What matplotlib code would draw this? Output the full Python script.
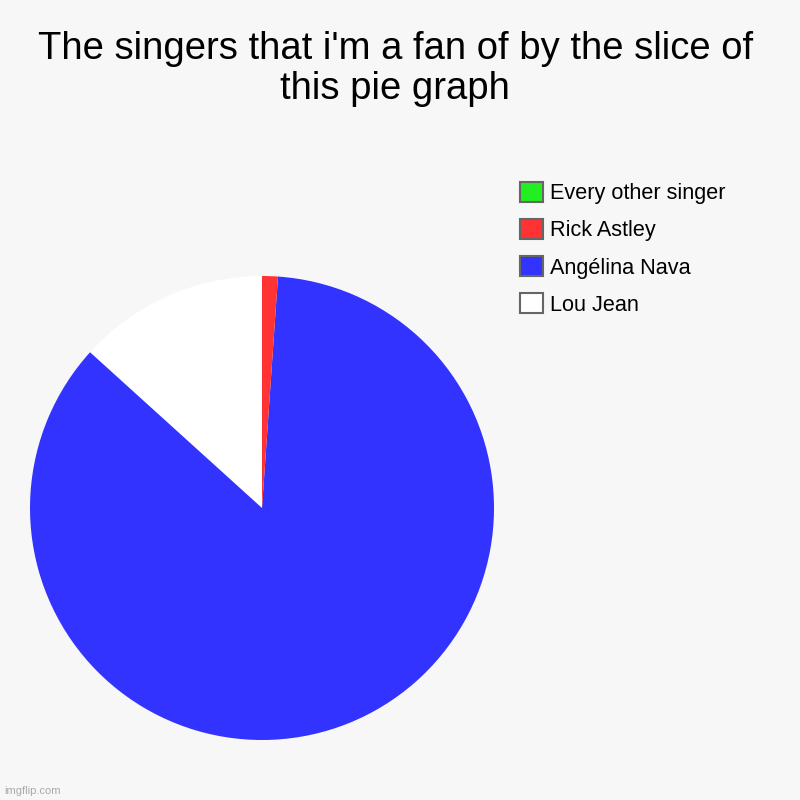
import matplotlib.pyplot as plt
from matplotlib.patches import Patch

plt.rcParams['font.family'] = ['Liberation Sans', 'DejaVu Sans']

singers = ['Lou Jean', 'Angélina Nava', 'Rick Astley', 'Every other singer']
shares = [13.3, 85.7, 1.1, 0]
colors = ['#ffffff', '#3333ff', '#ff3333', '#22ee22']

fig = plt.figure(figsize=(8, 8), dpi=100, facecolor='#f7f7f7')

fig.text(0.494, 0.914, "The singers that i'm a fan of by the slice of\nthis pie graph",
         ha='center', va='center', fontsize=27.5, linespacing=1.14)

ax = fig.add_axes([0.0375, 0.075, 0.58, 0.58])
ax.set_facecolor('#f7f7f7')
ax.pie(shares, colors=colors, startangle=90, counterclock=True, radius=1)
ax.set_xlim(-1, 1)
ax.set_ylim(-1, 1)
ax.set_aspect('equal')
ax.axis('off')

handles = [Patch(facecolor=c, edgecolor='#666666', linewidth=1.5) for c in colors]
fig.legend(handles[::-1], singers[::-1], loc='upper left',
           bbox_to_anchor=(0.6395, 0.7835), frameon=False, fontsize=15.6,
           handlelength=1.05, handleheight=1.05, handletextpad=0.33,
           labelspacing=0.68, borderaxespad=0)

fig.text(0.005, 0.005, 'imgflip.com', fontsize=8, color='#aaaaaa', ha='left', va='bottom')

plt.savefig('out.png', dpi=100, facecolor=fig.get_facecolor())
